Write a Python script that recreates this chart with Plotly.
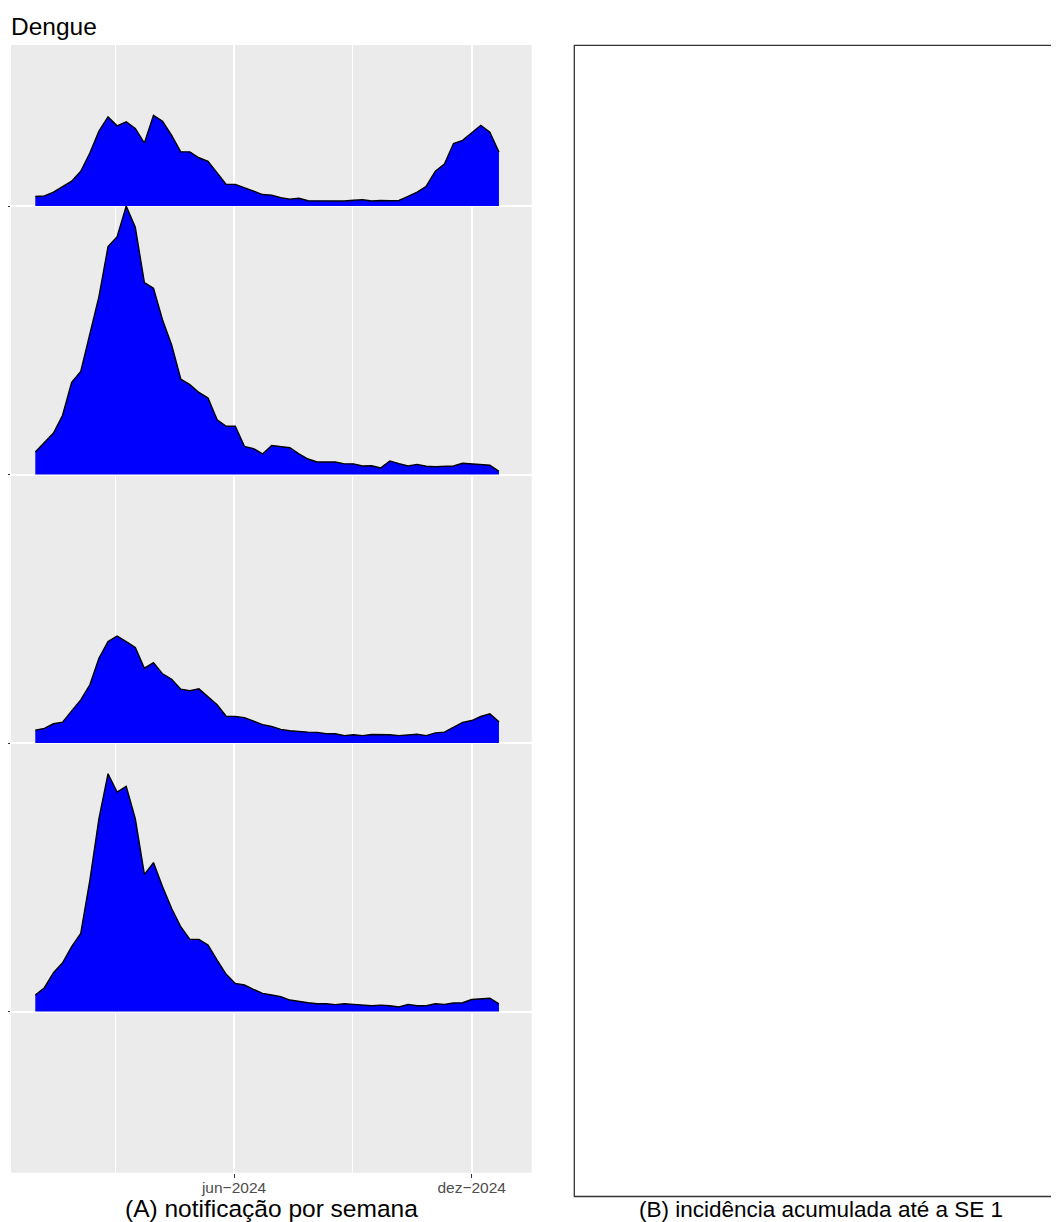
import pandas as pd
import plotly.graph_objects as go

# ---------------- data ----------------
week_start = "2023-12-31"   # SE 1 / 2024
n_weeks = 52
weeks = pd.date_range(week_start, periods=n_weeks, freq="7D")

ridge_names = ["serie_4", "serie_3", "serie_2", "serie_1"]   # bottom -> top
ridge_levels = [1, 2, 3, 4]

# relative weekly notification heights (scaled to ridge spacing)
serie_1 = [0.036, 0.038, 0.052, 0.072, 0.093, 0.130, 0.198, 0.279, 0.332, 0.299,
           0.314, 0.289, 0.235, 0.338, 0.316, 0.263, 0.202, 0.202, 0.180, 0.167,
           0.124, 0.081, 0.081, 0.068, 0.058, 0.043, 0.041, 0.031, 0.026, 0.029,
           0.020, 0.020, 0.021, 0.020, 0.019, 0.022, 0.024, 0.019, 0.021, 0.020,
           0.021, 0.036, 0.052, 0.074, 0.130, 0.157, 0.233, 0.245, 0.273, 0.301,
           0.275, 0.201]
serie_2 = [0.084, 0.118, 0.155, 0.221, 0.344, 0.384, 0.527, 0.663, 0.849, 0.886,
           1.000, 0.921, 0.715, 0.694, 0.576, 0.483, 0.356, 0.335, 0.306, 0.285,
           0.204, 0.180, 0.180, 0.105, 0.097, 0.077, 0.108, 0.103, 0.100, 0.077,
           0.058, 0.047, 0.047, 0.047, 0.040, 0.040, 0.032, 0.033, 0.025, 0.051,
           0.041, 0.032, 0.038, 0.031, 0.029, 0.031, 0.032, 0.042, 0.040, 0.037,
           0.035, 0.012]
serie_3 = [0.048, 0.055, 0.072, 0.078, 0.120, 0.161, 0.217, 0.316, 0.378, 0.399,
           0.378, 0.356, 0.279, 0.300, 0.258, 0.238, 0.201, 0.195, 0.202, 0.173,
           0.143, 0.100, 0.099, 0.095, 0.082, 0.069, 0.062, 0.051, 0.046, 0.043,
           0.041, 0.040, 0.035, 0.035, 0.028, 0.031, 0.028, 0.032, 0.032, 0.031,
           0.028, 0.031, 0.033, 0.028, 0.038, 0.041, 0.058, 0.077, 0.084, 0.099,
           0.109, 0.079]
serie_4 = [0.062, 0.089, 0.145, 0.182, 0.242, 0.291, 0.489, 0.719, 0.886, 0.818,
           0.839, 0.719, 0.511, 0.555, 0.465, 0.384, 0.316, 0.269, 0.269, 0.248,
           0.192, 0.139, 0.105, 0.099, 0.083, 0.068, 0.062, 0.056, 0.043, 0.037,
           0.033, 0.029, 0.029, 0.026, 0.029, 0.027, 0.025, 0.022, 0.024, 0.022,
           0.017, 0.027, 0.022, 0.022, 0.029, 0.027, 0.032, 0.033, 0.045, 0.047,
           0.050, 0.029]
ridge_values = {"serie_1": serie_1, "serie_2": serie_2, "serie_3": serie_3, "serie_4": serie_4}

x_tick_vals = ["2024-06-01", "2024-12-01"]
x_tick_text = ["jun\u22122024", "dez\u22122024"]
x_minor_vals = ["2024-03-01 12:00", "2024-08-31 12:00"]

title_text = "Dengue"
caption_a = "(A) notificação por semana"
caption_b = "(B) incidência acumulada até a SE 1"

# ---------------- figure ----------------
PAGE_W, PAGE_H = 1059, 1222
OFF = 8                      # default body margin of the html page
W, H = PAGE_W - OFF, PAGE_H - OFF
FONT = "Liberation Sans, Arial, Helvetica, sans-serif"

def px_x(p):
    return (p - OFF) / W

def px_y(p):
    return 1 - (p - OFF) / H

fig = go.Figure()

xs = list(weeks)
for name, level in zip(ridge_names, ridge_levels):
    vals = ridge_values[name]
    top = [level + v for v in vals]
    # filled area down to the ridge baseline
    fig.add_trace(go.Scatter(
        x=xs + xs[::-1], y=top + [level] * len(xs),
        fill="toself", fillcolor="#0000FF", mode="lines",
        line=dict(width=0, color="#0000FF"), hoverinfo="skip", showlegend=False))
    # black outline along the top
    fig.add_trace(go.Scatter(
        x=xs, y=top, mode="lines", line=dict(color="black", width=1.4),
        name=name, showlegend=False))

fig.update_layout(
    width=W, height=H, autosize=False,
    margin=dict(l=0, r=0, t=0, b=0),
    paper_bgcolor="white", plot_bgcolor="#EBEBEB",
    font=dict(family=FONT, color="black"),
    showlegend=False,
    xaxis=dict(
        domain=[px_x(11), px_x(531.7)],
        type="date",
        range=["2023-12-12 07:00", "2025-01-16 05:00"],
        tickmode="array", tickvals=x_tick_vals, ticktext=x_tick_text,
        ticks="outside", ticklen=4, tickwidth=1, tickcolor="#333333",
        ticklabelstandoff=-3,
        tickfont=dict(size=15.5, color="#4D4D4D", family=FONT),
        showgrid=True, gridcolor="white", gridwidth=1.6,
        minor=dict(tickmode="array", tickvals=x_minor_vals, showgrid=True,
                   gridcolor="white", gridwidth=0.9, ticks=""),
        zeroline=False, showline=False, automargin=False, fixedrange=True,
    ),
    yaxis=dict(
        domain=[px_y(1172.7), px_y(45)],
        range=[0.4, 4.6],
        tickmode="array", tickvals=ridge_levels, ticktext=["" for _ in ridge_levels],
        ticks="outside", ticklen=4, tickwidth=1, tickcolor="#333333",
        showgrid=True, gridcolor="white", gridwidth=1.6,
        zeroline=False, showline=False, automargin=False, fixedrange=True,
    ),
)

# right (empty) panel
fig.add_shape(type="rect", xref="paper", yref="paper",
              x0=px_x(574.3), x1=px_x(1075), y0=px_y(1196.5), y1=px_y(45.3),
              line=dict(color="#333333", width=1.3), fillcolor="white", layer="below")

# texts
fig.add_annotation(text=title_text, xref="paper", yref="paper",
                   x=px_x(9), y=px_y(27), xanchor="left", yanchor="middle",
                   showarrow=False, font=dict(size=24.5, color="black", family=FONT))
fig.add_annotation(text=caption_a, xref="paper", yref="paper",
                   x=px_x(271), y=px_y(1208), xanchor="center", yanchor="middle",
                   showarrow=False, font=dict(size=24.5, color="black", family=FONT))
fig.add_annotation(text=caption_b, xref="paper", yref="paper",
                   x=px_x(820.5), y=px_y(1209), xanchor="center", yanchor="middle",
                   showarrow=False, font=dict(size=22.5, color="black", family=FONT))

fig.write_html("out.html")
